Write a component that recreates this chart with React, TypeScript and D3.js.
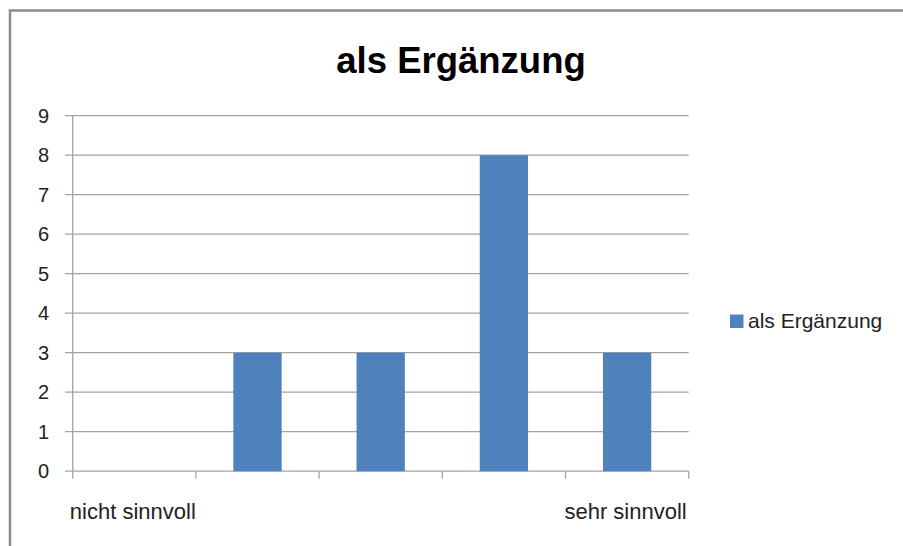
import React from "react";
import * as d3 from "d3";

const categories = ["nicht sinnvoll", "", "", "", "sehr sinnvoll"];
const seriesName = "als Ergänzung";
const values = [0, 3, 3, 8, 3];
const yTicks = [0, 1, 2, 3, 4, 5, 6, 7, 8, 9];
const chartTitle = "als Ergänzung";

const W = 903;
const H = 546;
const FONT = "'Liberation Sans', Arial, sans-serif";

export default function App() {
  const plot = { left: 72.7, right: 688.7, top: 115.7, bottom: 471.2 };
  const x = d3
    .scaleBand<number>()
    .domain(categories.map((_, i) => i))
    .range([plot.left, plot.right])
    .paddingInner(0)
    .paddingOuter(0);
  const y = d3.scaleLinear().domain([0, 9]).range([plot.bottom, plot.top]);
  const barW = x.bandwidth() * 0.392;
  const gridColor = "#a3a3a3";

  const boundaries = d3.range(categories.length + 1).map((i) =>
    i < categories.length ? (x(i) as number) : plot.right
  );

  return (
    <svg
      width={W}
      height={H}
      style={{ position: "absolute", left: 0, top: 0, background: "#fff" }}
      fontFamily={FONT}
    >
      <rect x={0} y={0} width={W} height={H} fill="#fff" />
      <rect
        x={10}
        y={10.5}
        width={920}
        height={560}
        fill="none"
        stroke="#8c8c8c"
        strokeWidth={2.5}
      />
      <text
        x={461}
        y={73.3}
        textAnchor="middle"
        fontSize={36.5}
        fontWeight="bold"
        fill="#000"
      >
        {chartTitle}
      </text>

      {yTicks.map((t) => (
        <g key={t}>
          <line
            x1={65}
            x2={plot.right}
            y1={y(t)}
            y2={y(t)}
            stroke={gridColor}
            strokeWidth={1.3}
          />
          <text
            x={49}
            y={y(t)}
            dy="0.35em"
            textAnchor="end"
            fontSize={20}
            fill="#222"
          >
            {t}
          </text>
        </g>
      ))}

      <line
        x1={plot.left}
        x2={plot.left}
        y1={plot.top}
        y2={plot.bottom}
        stroke={gridColor}
        strokeWidth={1.3}
      />
      {boundaries.map((bx, i) => (
        <line
          key={i}
          x1={bx}
          x2={bx}
          y1={plot.bottom}
          y2={plot.bottom + 7.5}
          stroke={gridColor}
          strokeWidth={1.3}
        />
      ))}

      {values.map((v, i) => {
        const cx = (x(i) as number) + x.bandwidth() / 2;
        return (
          <rect
            key={i}
            x={cx - barW / 2}
            y={y(v)}
            width={barW}
            height={y(0) - y(v)}
            fill="#4F81BD"
          />
        );
      })}

      {categories.map((c, i) =>
        c ? (
          <text
            key={i}
            x={(x(i) as number) + x.bandwidth() / 2 - 1.5}
            y={519.3}
            textAnchor="middle"
            fontSize={22}
            fill="#222"
          >
            {c}
          </text>
        ) : null
      )}

      <rect x={730} y={314.5} width={13.5} height={13.5} fill="#4F81BD" />
      <text x={748} y={327.5} fontSize={21} fill="#222">
        {seriesName}
      </text>
    </svg>
  );
}
